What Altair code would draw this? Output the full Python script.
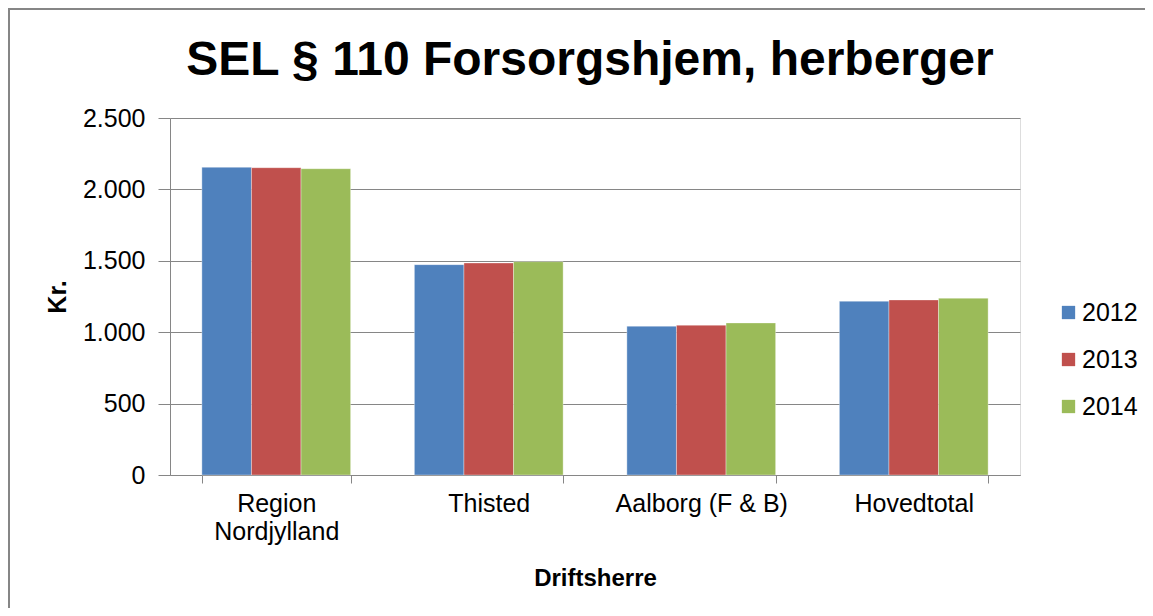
import altair as alt
import pandas as pd

categories = ["Region Nordjylland", "Thisted", "Aalborg (F & B)", "Hovedtotal"]
years = ["2012", "2013", "2014"]
v2012 = [2155, 1473, 1042, 1217]
v2013 = [2152, 1485, 1049, 1226]
v2014 = [2145, 1494, 1065, 1238]
colors = ["#4F81BD", "#C0504D", "#9BBB59"]
y_ticks = [0, 500, 1000, 1500, 2000, 2500]

rows = []
for yr, vals in zip(years, [v2012, v2013, v2014]):
    for c, v in zip(categories, vals):
        rows.append({"Driftsherre": c, "Year": yr, "Kr": v})
df = pd.DataFrame(rows)

FONT = "Liberation Sans"
GRAY = "#868686"

bars = alt.Chart(df).mark_bar(stroke="white", strokeOpacity=0.35, strokeWidth=1).encode(
    x=alt.X("Driftsherre:N", sort=categories, title="Driftsherre",
            scale=alt.Scale(paddingInner=0.3, paddingOuter=0.15),
            axis=alt.Axis(labelAngle=0, labelFontSize=25, labelFont=FONT, labelColor="black",
                          labelExpr="datum.label == 'Region Nordjylland' ? ['Region', 'Nordjylland'] : datum.label",
                          labelLineHeight=28, labelPadding=8, tickBand="extent", tickSize=8,
                          tickColor=GRAY, domainColor=GRAY, grid=False,
                          titleFontSize=24, titleFont=FONT, titleFontWeight="bold", titleColor="black",
                          titlePadding=22)),
    xOffset=alt.XOffset("Year:N", sort=years),
    y=alt.Y("Kr:Q", title="Kr.", scale=alt.Scale(domain=[0, 2500]),
            axis=alt.Axis(values=y_ticks, labelFontSize=25, labelFont=FONT, labelColor="black",
                          labelExpr="replace(format(datum.value, ','), ',', '.')",
                          tickSize=12, labelPadding=13, tickColor=GRAY, domainColor=GRAY,
                          gridColor=GRAY, gridOpacity=1,
                          titleFontSize=25, titleFont=FONT, titleFontWeight="bold", titleColor="black",
                          titlePadding=12)),
    color=alt.Color("Year:N", sort=years, scale=alt.Scale(domain=years, range=colors),
                    legend=alt.Legend(title=None, orient="none", legendX=886, legendY=182,
                                      symbolType="square", symbolSize=177, symbolStrokeWidth=0,
                                      labelFontSize=25, labelFont=FONT, labelColor="black",
                                      labelOffset=1, rowPadding=21, padding=0)),
)

one = pd.DataFrame({"a": [0]})
top_border = alt.Chart(one).mark_rule(stroke=GRAY, strokeWidth=2, clip=False).encode(
    x=alt.value(-162), x2=alt.value(1000), y=alt.value(-109))
left_border = alt.Chart(one).mark_rule(stroke=GRAY, strokeWidth=2, clip=False).encode(
    x=alt.value(-161), y=alt.value(-110), y2=alt.value(500))

chart = alt.layer(top_border, left_border, bars).properties(
    width=850, height=357,
    title=alt.Title("SEL § 110 Forsorgshjem, herberger", frame="group", dx=-5,
                    baseline="alphabetic", offset=-116),
    autosize=alt.AutoSizeParams(type="none"),
    padding={"left": 162, "top": 110, "right": 125, "bottom": 133},
).configure_view(stroke=None).configure(background="white").configure_title(
    fontSize=48, font=FONT, fontWeight="bold", color="black", anchor="middle"
)

chart.save("out.html", embed_options={"renderer": "svg", "actions": False})
